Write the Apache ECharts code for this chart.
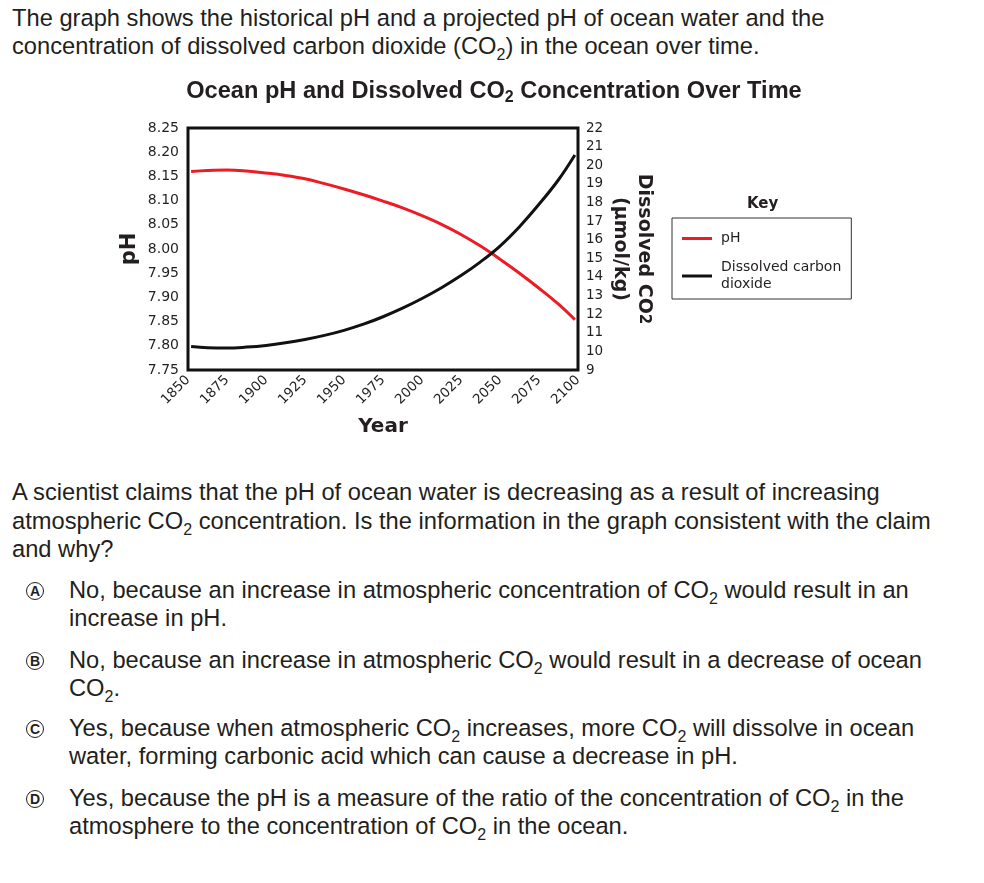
<!DOCTYPE html>
<html>
<head>
<meta charset="utf-8">
<script src="https://cdn.jsdelivr.net/npm/echarts@6/dist/echarts.min.js"></script>
<style>
  body { margin: 0; background: #fff; font-family: "Liberation Sans", Arial, sans-serif; color: #231f20; }
  .txt { position: absolute; left: 12px; font-size: 23.7px; line-height: 28px; white-space: nowrap; }
  .opt { position: absolute; left: 69px; font-size: 23.7px; line-height: 28px; white-space: nowrap; }
  .circ { position: absolute; left: 26px; width: 16px; height: 16px; border: 1.7px solid #231f20; border-radius: 50%;
          font-size: 14px; font-weight: bold; line-height: 16px; text-align: center; font-family: "Liberation Sans Narrow", "Liberation Sans", sans-serif; }
  sub { font-size: 16px; vertical-align: -6px; line-height: 0; }
  #chart { position: absolute; left: 0; top: 0; width: 984px; height: 450px; }
</style>
</head>
<body>
<div class="txt" style="top:4px">The graph shows the historical pH and a projected pH of ocean water and the<br>concentration of dissolved carbon dioxide (CO<sub>2</sub>) in the ocean over time.</div>
<div id="chart"></div>
<div class="txt" style="top:478px;line-height:28.5px">A scientist claims that the pH of ocean water is decreasing as a result of increasing<br>atmospheric CO<sub>2</sub> concentration. Is the information in the graph consistent with the claim<br>and why?</div>

<div class="circ" style="top:582px">A</div>
<div class="opt" style="top:576px">No, because an increase in atmospheric concentration of CO<sub>2</sub> would result in an<br>increase in pH.</div>
<div class="circ" style="top:652px">B</div>
<div class="opt" style="top:646px">No, because an increase in atmospheric CO<sub>2</sub> would result in a decrease of ocean<br>CO<sub>2</sub>.</div>
<div class="circ" style="top:720px">C</div>
<div class="opt" style="top:714px">Yes, because when atmospheric CO<sub>2</sub> increases, more CO<sub>2</sub> will dissolve in ocean<br>water, forming carbonic acid which can cause a decrease in pH.</div>
<div class="circ" style="top:790px">D</div>
<div class="opt" style="top:784px">Yes, because the pH is a measure of the ratio of the concentration of CO<sub>2</sub> in the<br>atmosphere to the concentration of CO<sub>2</sub> in the ocean.</div>

<script>
// readings, every 12.5 years (curves start/end just inside the frame)
var years = [1852, 1862.5, 1875, 1887.5, 1900, 1912.5, 1925, 1937.5, 1950, 1962.5, 1975,
             1987.5, 2000, 2012.5, 2025, 2037.5, 2050, 2062.5, 2075, 2087.5, 2098];
var phValues = [8.160, 8.162, 8.163, 8.161, 8.157, 8.152, 8.145, 8.135, 8.124, 8.112, 8.099,
                8.085, 8.069, 8.051, 8.030, 8.006, 7.979, 7.950, 7.919, 7.886, 7.854];
var co2Values = [10.26, 10.20, 10.18, 10.23, 10.32, 10.46, 10.64, 10.86, 11.13, 11.46, 11.86,
                 12.32, 12.84, 13.42, 14.07, 14.81, 15.66, 16.70, 17.90, 19.22, 20.55];

var phName = 'pH';
var co2Name = 'Dissolved carbon\ndioxide';

function pairs(xs, ys) {
    var out = [];
    for (var i = 0; i < xs.length; i++) out.push([xs[i], ys[i]]);
    return out;
}

var axisFont = 'DejaVu Sans';

var option = {
    animation: false,
    title: {
        text: 'Ocean pH and Dissolved CO{s|2} Concentration Over Time',
        left: 489,
        textAlign: 'center',
        top: 72,
        textStyle: {
            fontFamily: 'Liberation Sans',
            fontSize: 23.6,
            fontWeight: 'bold',
            color: '#231f20',
            rich: {
                s: { fontFamily: 'Liberation Sans', fontSize: 16, fontWeight: 'bold', color: '#231f20', padding: [13, 0, 0, 0] }
            }
        }
    },
    legend: {
        orient: 'vertical',
        left: 672,
        top: 218,
        icon: 'rect',
        itemWidth: 30,
        itemHeight: 3,
        itemGap: 12,
        borderColor: '#333',
        borderWidth: 1,
        padding: [12, 10, 6, 10],
        textStyle: { fontFamily: axisFont, fontSize: 14, color: '#231f20', lineHeight: 17, padding: [0, 0, 0, 4] },
        data: [phName, co2Name]
    },
    graphic: [{
        type: 'text',
        left: 747,
        top: 197,
        style: { text: 'Key', font: 'bold 15px "DejaVu Sans"', fill: '#231f20' }
    }],
    grid: {
        left: 188,
        top: 128,
        right: 406,
        bottom: 80,
        show: true,
        borderColor: '#111',
        borderWidth: 3
    },
    xAxis: {
        type: 'value',
        min: 1850,
        max: 2100,
        interval: 25,
        name: 'Year',
        nameLocation: 'middle',
        nameGap: 47,
        nameTextStyle: { fontFamily: axisFont, fontSize: 20, fontWeight: 'bold', color: '#231f20' },
        axisLine: { show: false },
        axisTick: { show: false },
        splitLine: { show: false },
        axisLabel: {
            rotate: 45, margin: 8, fontFamily: axisFont, fontSize: 13.5, color: '#231f20',
            formatter: function (v) { return String(v); }
        }
    },
    yAxis: [{
        type: 'value',
        min: 7.75,
        max: 8.25,
        interval: 0.05,
        name: 'pH',
        nameLocation: 'middle',
        nameRotate: 90,
        nameGap: 48,
        nameTextStyle: { fontFamily: axisFont, fontSize: 21, fontWeight: 'bold', color: '#231f20' },
        axisLine: { show: false },
        axisTick: { show: false },
        splitLine: { show: false },
        axisLabel: {
            margin: 9,
            fontFamily: axisFont, fontSize: 14, color: '#231f20',
            formatter: function (v) { return v.toFixed(2); }
        }
    }, {
        type: 'value',
        position: 'right',
        min: 9,
        max: 22,
        interval: 1,
        name: 'Dissolved CO{s|2}\n(µmol/kg)',
        nameLocation: 'middle',
        nameRotate: -90,
        nameGap: 30,
        nameTextStyle: {
            fontFamily: axisFont, fontSize: 19, fontWeight: 'bold', color: '#231f20', lineHeight: 24,
            rich: { s: { fontFamily: axisFont, fontSize: 15, fontWeight: 'bold', color: '#231f20', lineHeight: 24 } }
        },
        axisLine: { show: false },
        axisTick: { show: false },
        splitLine: { show: false },
        axisLabel: { margin: 8, fontFamily: axisFont, fontSize: 13.5, color: '#231f20' }
    }],
    series: [{
        name: phName,
        type: 'line',
        yAxisIndex: 0,
        smooth: 0.4,
        showSymbol: false,
        lineStyle: { color: '#ed1c24', width: 3 },
        itemStyle: { color: '#ed1c24' },
        data: pairs(years, phValues)
    }, {
        name: co2Name,
        type: 'line',
        yAxisIndex: 1,
        smooth: 0.4,
        showSymbol: false,
        lineStyle: { color: '#111', width: 3 },
        itemStyle: { color: '#111' },
        data: pairs(years, co2Values)
    }]
};

var chart = echarts.init(document.getElementById('chart'));
chart.setOption(option);
</script>
</body>
</html>
